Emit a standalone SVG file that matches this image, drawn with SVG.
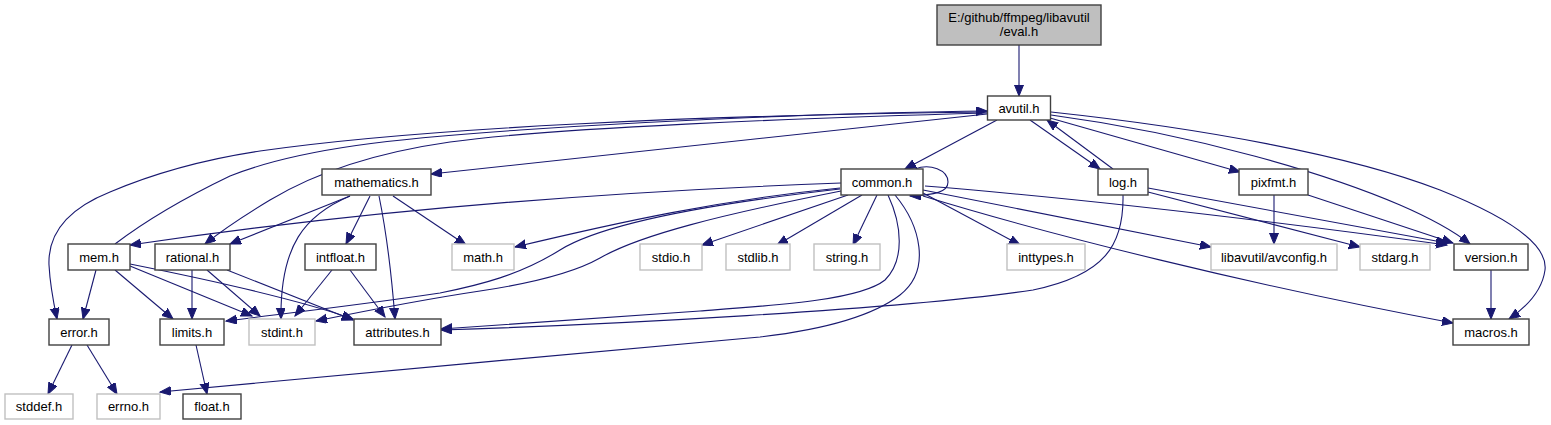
<svg xmlns="http://www.w3.org/2000/svg" width="1551" height="425" viewBox="0 0 1551 425">
<style>
.n rect{fill:#ffffff;stroke:#404040;stroke-width:1.4}
.g rect{fill:#ffffff;stroke:#c0c0c0;stroke-width:1.4}
.root rect{fill:#bfbfbf;stroke:#404040;stroke-width:1.4}
text{font-family:"Liberation Sans",Arial,sans-serif;font-size:13px;fill:#000;text-anchor:middle}
.e path{fill:none;stroke:#191970;stroke-width:1.1;marker-end:url(#ah)}
</style>
<defs>
<marker id="ah" markerWidth="13" markerHeight="11" refX="11" refY="4.5" orient="auto" markerUnits="userSpaceOnUse">
<path d="M0,0 L11,4.5 L0,9 z" fill="#191970" stroke="#191970" stroke-width="1"/>
</marker>
</defs>
<rect x="0" y="0" width="1551" height="425" fill="#ffffff"/>
<g id="edges" class="e">
<path d="M1019,45 L1019,96"/>
<path d="M997,120 L905,169"/>
<path d="M987,114 L431,174"/>
<path d="M987,112 C700,115 420,128 260,151 C200,160 150,175 110,192 C60,212 48,240 49,265 C50,285 54,305 57,319"/>
<path d="M115,244 C140,225 180,200 230,176 C300,148 400,138 520,130 C700,118 880,112 987,111"/>
<path d="M987,113 C800,118 550,128 450,142 C380,152 320,170 270,200 C240,218 220,232 205,244"/>
<path d="M1030,120 L1100,169"/>
<path d="M1113,169 L1047,120"/>
<path d="M1050,118 L1240,172"/>
<path d="M1051,115 C1200,135 1330,175 1400,205 C1430,218 1455,232 1470,244"/>
<path d="M1051,112 C1200,128 1350,155 1440,190 C1510,218 1548,245 1545,270 C1542,292 1525,308 1509,319"/>
<path d="M915,169 C930,163 948,170 948,182 C948,192 935,195 910,196"/>
<path d="M841,183 C650,190 400,205 130,245"/>
<path d="M840,188 C720,200 620,222 515,247"/>
<path d="M840,189 C700,205 600,225 560,250 C520,275 480,285 440,293 C360,305 280,314 226,321"/>
<path d="M841,191 C720,215 640,235 600,258 C570,275 520,285 480,291 C420,300 360,312 316,321"/>
<path d="M888,195 C902,225 905,260 885,280 C860,300 780,305 700,311 C600,318 500,325 441,329"/>
<path d="M895,195 C920,225 932,270 900,295 C870,318 820,330 760,337 C600,352 300,378 160,392"/>
<path d="M848,195 L702,245"/>
<path d="M862,195 L777,245"/>
<path d="M877,195 L853,245"/>
<path d="M923,193 L1020,245"/>
<path d="M923,190 L1211,247"/>
<path d="M925,186 C1100,200 1300,225 1447,245"/>
<path d="M923,196 C1050,235 1250,285 1453,323"/>
<path d="M350,196 L230,244"/>
<path d="M350,196 C305,215 280,245 281,319"/>
<path d="M370,196 L346,244"/>
<path d="M379,196 C388,240 392,280 395,319"/>
<path d="M393,196 L466,245"/>
<path d="M192,270 L192,319"/>
<path d="M207,270 L260,316"/>
<path d="M227,270 L353,320"/>
<path d="M332,270 L295,316"/>
<path d="M350,270 L385,317"/>
<path d="M96,270 L83,319"/>
<path d="M115,270 L173,319"/>
<path d="M130,266 L252,316"/>
<path d="M130,264 C220,282 300,300 353,319"/>
<path d="M72,345 L48,394"/>
<path d="M87,345 L117,394"/>
<path d="M196,345 L207,394"/>
<path d="M1148,192 L1360,247"/>
<path d="M1148,188 L1447,243"/>
<path d="M1123,195 C1124,245 1105,275 1033,290 C900,310 600,325 441,330"/>
<path d="M1274,195 L1274,244"/>
<path d="M1308,195 L1453,243"/>
<path d="M1491,270 L1491,319"/>
</g>
<g id="eval_h" class="root"><rect x="937" y="5" width="164" height="40"/><text x="1019" y="21.5">E:/github/ffmpeg/libavutil</text><text x="1019" y="36">/eval.h</text></g>
<g id="avutil_h" class="n"><rect x="987.5" y="96" width="63" height="24"/><text x="1019" y="112.5">avutil.h</text></g>
<g id="common_h" class="n"><rect x="841" y="169" width="82" height="26"/><text x="882" y="186.5">common.h</text></g>
<g id="mathematics_h" class="n"><rect x="322" y="169" width="109" height="26"/><text x="376.5" y="186.5">mathematics.h</text></g>
<g id="log_h" class="n"><rect x="1098" y="169" width="50" height="26"/><text x="1123" y="186.5">log.h</text></g>
<g id="pixfmt_h" class="n"><rect x="1239" y="169" width="69" height="26"/><text x="1273.5" y="186.5">pixfmt.h</text></g>
<g id="mem_h" class="n"><rect x="68" y="244" width="62" height="26"/><text x="99" y="261.5">mem.h</text></g>
<g id="rational_h" class="n"><rect x="155" y="244" width="75" height="26"/><text x="192.5" y="261.5">rational.h</text></g>
<g id="intfloat_h" class="n"><rect x="305" y="244" width="71" height="26"/><text x="340.5" y="261.5">intfloat.h</text></g>
<g id="math_h" class="g"><rect x="452" y="244" width="62" height="26"/><text x="483" y="261.5">math.h</text></g>
<g id="stdio_h" class="g"><rect x="640" y="244" width="62" height="26"/><text x="671" y="261.5">stdio.h</text></g>
<g id="stdlib_h" class="g"><rect x="726" y="244" width="64" height="26"/><text x="758" y="261.5">stdlib.h</text></g>
<g id="string_h" class="g"><rect x="814" y="244" width="66" height="26"/><text x="847" y="261.5">string.h</text></g>
<g id="inttypes_h" class="g"><rect x="1007" y="244" width="78" height="26"/><text x="1046" y="261.5">inttypes.h</text></g>
<g id="avconfig_h" class="g"><rect x="1211" y="244" width="126" height="26"/><text x="1274" y="261.5">libavutil/avconfig.h</text></g>
<g id="stdarg_h" class="g"><rect x="1360" y="244" width="70" height="26"/><text x="1395" y="261.5">stdarg.h</text></g>
<g id="version_h" class="n"><rect x="1454" y="244" width="74" height="26"/><text x="1491" y="261.5">version.h</text></g>
<g id="error_h" class="n"><rect x="49" y="319" width="60" height="26"/><text x="79" y="336.5">error.h</text></g>
<g id="limits_h" class="n"><rect x="160" y="319" width="64" height="26"/><text x="192" y="336.5">limits.h</text></g>
<g id="stdint_h" class="g"><rect x="249" y="319" width="66" height="26"/><text x="282" y="336.5">stdint.h</text></g>
<g id="attributes_h" class="n"><rect x="354" y="319" width="87" height="26"/><text x="397.5" y="336.5">attributes.h</text></g>
<g id="macros_h" class="n"><rect x="1453" y="319" width="76" height="26"/><text x="1491" y="336.5">macros.h</text></g>
<g id="stddef_h" class="g"><rect x="5" y="394" width="68" height="25"/><text x="39" y="411">stddef.h</text></g>
<g id="errno_h" class="g"><rect x="97" y="394" width="63" height="25"/><text x="128.5" y="411">errno.h</text></g>
<g id="float_h" class="n"><rect x="183" y="394" width="58" height="25"/><text x="212" y="411">float.h</text></g>
</svg>
